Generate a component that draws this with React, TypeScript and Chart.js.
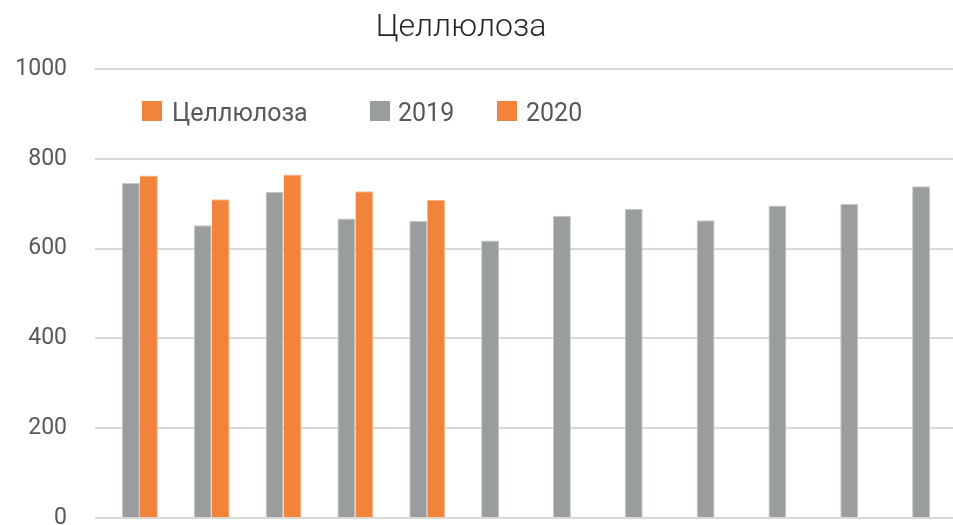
import React, { useEffect, useRef } from "react";
import { Chart, registerables } from "chart.js";

Chart.register(...registerables);

const categories = ["Янв", "Фев", "Мар", "Апр", "Май", "Июн", "Июл", "Авг", "Сен", "Окт", "Ноя", "Дек"];
const values2019 = [746, 652, 726, 667, 662, 618, 673, 688, 663, 696, 700, 739];
const values2020 = [763, 710, 765, 728, 708, null, null, null, null, null, null, null];
const valuesEmpty = [null, null, null, null, null, null, null, null, null, null, null, null];
const yTicks = [0, 200, 400, 600, 800, 1000];
const titleText = "Целлюлоза";
const legendLabels = ["Целлюлоза", "2019", "2020"];

const GRAY = "#9a9d9d";
const ORANGE = "#f2833a";
const legendColors = [ORANGE, GRAY, ORANGE];

export default function App() {
  const ref = useRef<HTMLCanvasElement | null>(null);

  useEffect(() => {
    if (!ref.current) return;
    const chart = new Chart(ref.current, {
      type: "bar",
      data: {
        labels: categories,
        datasets: [
          { label: legendLabels[0], data: valuesEmpty, backgroundColor: ORANGE },
          { label: legendLabels[1], data: values2019, backgroundColor: GRAY, borderColor: "#c4c6c6", borderWidth: { top: 1, left: 1, right: 1, bottom: 0 } as any },
          { label: legendLabels[2], data: values2020, backgroundColor: ORANGE, borderColor: "#f8b58a", borderWidth: { top: 1, left: 0, right: 1, bottom: 0 } as any },
        ],
      },
      options: {
        responsive: false,
        animation: false,
        layout: { padding: { left: 15, top: 69, right: 3, bottom: 34 } },
        datasets: { bar: { categoryPercentage: 0.75, barPercentage: 1 } },
        plugins: { legend: { display: false }, title: { display: false }, tooltip: { enabled: false } },
        scales: {
          x: {
            grid: { display: false },
            ticks: { display: false },
            border: { display: false },
          },
          y: {
            min: 0,
            max: 1000,
            afterBuildTicks: (axis: any) => {
              axis.ticks = yTicks.map((v) => ({ value: v }));
            },
            afterFit: (axis: any) => {
              axis.width = 80;
            },
            grid: { color: "#d9d9d9", lineWidth: 2, drawTicks: false },
            border: { display: false },
            ticks: {
              padding: 28,
              color: "#595959",
              font: { family: "Roboto", size: 23 },
              callback: (v: any) => String(v),
            },
          },
        },
      },
    });
    return () => chart.destroy();
  }, []);

  const legendX = [142, 370, 497];
  const textX = [172, 398, 526];

  return (
    <div style={{ position: "fixed", left: 0, top: 0, width: 953, height: 525, overflow: "hidden", background: "#fff" }}>
      <canvas ref={ref} width={960} height={560} style={{ position: "absolute", left: 0, top: 0, width: 960, height: 560 }} />
      <div
        style={{
          position: "absolute",
          left: 311,
          top: 9,
          width: 300,
          textAlign: "center",
          fontFamily: "Roboto",
          fontWeight: 300,
          fontSize: 32,
          lineHeight: "32px",
          color: "#262626",
          whiteSpace: "nowrap",
        }}
      >
        {titleText}
      </div>
      {legendLabels.map((l, i) => (
        <React.Fragment key={i}>
          <div style={{ position: "absolute", left: legendX[i], top: 101, width: 20, height: 20, background: legendColors[i] }} />
          <div
            style={{
              position: "absolute",
              left: textX[i],
              top: 99.6,
              fontFamily: "Roboto",
              fontSize: 25,
              lineHeight: "25px",
              color: "#595959",
              whiteSpace: "nowrap",
            }}
          >
            {l}
          </div>
        </React.Fragment>
      ))}
    </div>
  );
}
